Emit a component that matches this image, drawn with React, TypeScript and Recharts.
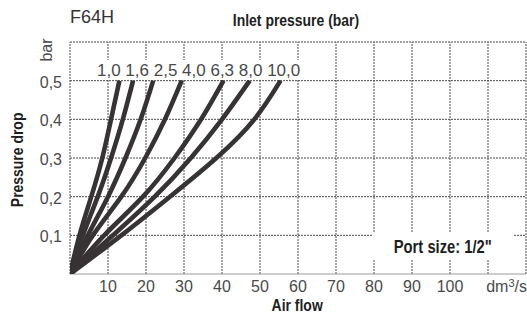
import React from "react";
import { LineChart, Line, XAxis, YAxis, ReferenceLine } from "recharts";

// Inlet pressure curves (bar) — flow (dm3/s) read at each pressure-drop level
const dropLevels = [0, 0.1, 0.2, 0.3, 0.4, 0.5];
const inletPressures = ["1,0", "1,6", "2,5", "4,0", "6,3", "8,0", "10,0"];
const flow_1_0 = [0, 2.5, 5.6, 8.5, 10.8, 13.0];
const flow_1_6 = [0, 3.4, 7.3, 10.8, 13.9, 16.6];
const flow_2_5 = [0, 4.7, 10.0, 14.6, 18.6, 21.9];
const flow_4_0 = [0, 6.0, 13.5, 19.8, 25.0, 29.4];
const flow_6_3 = [0, 9.0, 19.2, 27.5, 34.5, 40.4];
const flow_8_0 = [0, 11.3, 22.3, 31.8, 40.0, 47.3];
const flow_10_0 = [0, 13.5, 26.3, 38.5, 48.5, 55.4];

const xTicks = [0, 10, 20, 30, 40, 50, 60, 70, 80, 90, 100, 110, 120];
const yTicks = [0, 0.1, 0.2, 0.3, 0.4, 0.5, 0.6];

const seriesFlows = [flow_1_0, flow_1_6, flow_2_5, flow_4_0, flow_6_3, flow_8_0, flow_10_0];
const series = seriesFlows.map((flows, i) => ({
  name: inletPressures[i],
  points: flows.map((f, j) => ({ flow: f, drop: dropLevels[j] })),
}));

const SANS = "'Liberation Sans', Arial, Helvetica, sans-serif";
const LINE_COLOR = "#373233";
const TEXT_GRAY = "#4a4a4a";
const GRID = "#4d4d4d";

const XTick = (props: any) => {
  const { x, y, payload } = props;
  const v = payload.value;
  if (v === 0 || v === 110) return null;
  if (v === 120) {
    return (
      <text x={x + 1} y={y + 10} textAnchor="end" fontFamily={SANS} fontSize={16} fill={TEXT_GRAY}>
        dm<tspan dy={-5} fontSize={11}>3</tspan><tspan dy={5}>/s</tspan>
      </text>
    );
  }
  return (
    <text x={x} y={y + 10} textAnchor="middle" fontFamily={SANS} fontSize={16} fill={TEXT_GRAY}>
      {v}
    </text>
  );
};

const YTick = (props: any) => {
  const { x, y, payload } = props;
  const v = payload.value;
  if (v === 0) return null;
  if (v === 0.6) {
    return (
      <text
        x={0}
        y={0}
        transform={`translate(${x - 10},${y + 8}) rotate(-90)`}
        textAnchor="middle"
        fontFamily={SANS}
        fontSize={16}
        fill={TEXT_GRAY}
      >
        bar
      </text>
    );
  }
  return (
    <text x={x} y={y + 7} textAnchor="end" fontFamily={SANS} fontSize={16} fill={TEXT_GRAY}>
      {v.toFixed(1).replace(".", ",")}
    </text>
  );
};

const boldNarrow = (size: number): React.CSSProperties => ({
  fontFamily: SANS,
  fontWeight: "bold",
  fontSize: size,
  color: "#1e1e1e",
  whiteSpace: "nowrap",
  lineHeight: `${size + 4}px`,
});

export default function App() {
  return (
    <div style={{ position: "absolute", left: 0, top: 0, width: 527, height: 316, background: "#fff", overflow: "hidden" }}>
      <LineChart width={527} height={316} margin={{ top: 42, right: 1, bottom: 12, left: 20 }}>
        <XAxis
          type="number"
          dataKey="flow"
          domain={[0, 120]}
          ticks={xTicks}
          interval={0}
          tickLine={false}
          axisLine={false}
          tick={<XTick />}
          height={30}
          allowDataOverflow
        />
        <YAxis
          type="number"
          dataKey="drop"
          domain={[0, 0.6]}
          ticks={yTicks}
          interval={0}
          tickLine={false}
          axisLine={false}
          tickSize={6}
          tickMargin={2}
          tick={<YTick />}
          width={50}
          allowDataOverflow
        />
        {xTicks.map((v) => (
          <ReferenceLine key={`vx${v}`} x={v} stroke={GRID} strokeDasharray="2 1" strokeWidth={1} />
        ))}
        {yTicks.map((v) => (
          <ReferenceLine
            key={`hy${v}`}
            y={v}
            stroke={v === 0 ? "#9a9a9a" : GRID}
            strokeDasharray={v === 0 ? undefined : "2 1"}
            strokeWidth={1}
          />
        ))}
        {series.map((s) => (
          <Line
            key={s.name}
            data={s.points}
            dataKey="drop"
            type="natural"
            stroke={LINE_COLOR}
            strokeWidth={4.6}
            dot={false}
            activeDot={false}
            isAnimationActive={false}
          />
        ))}
      </LineChart>
      <div style={{ position: "absolute", left: 70, top: 6, fontFamily: SANS, fontSize: 18, color: "#333", lineHeight: "22px" }}>
        F64H
      </div>
      <div style={{ position: "absolute", left: 196, width: 200, top: 10, textAlign: "center" }}>
        <span style={{ ...boldNarrow(17), display: "inline-block", transform: "scaleX(0.82)" }}>Inlet pressure (bar)</span>
      </div>
      <div style={{ position: "absolute", left: 95, top: 60, width: 211, height: 20, background: "#fff" }}>
        <span style={{ position: "absolute", left: 2, top: 0, fontFamily: SANS, fontSize: 17, color: TEXT_GRAY, lineHeight: "21px", whiteSpace: "pre" }}>
          {inletPressures.join(" ")}
        </span>
      </div>
      <div style={{ position: "absolute", left: 17, top: 159, width: 0, height: 0 }}>
        <div style={{ position: "absolute", left: -80, top: -10, width: 160, textAlign: "center", transform: "rotate(-90deg)" }}>
          <span style={{ ...boldNarrow(17), display: "inline-block", transform: "scaleX(0.82)" }}>Pressure drop</span>
        </div>
      </div>
      <div style={{ position: "absolute", left: 247, width: 100, top: 295, textAlign: "center" }}>
        <span style={{ ...boldNarrow(17), display: "inline-block", transform: "scaleX(0.82)" }}>Air flow</span>
      </div>
      <div style={{ position: "absolute", left: 372, top: 233, width: 141, height: 27, background: "#fff", display: "flex", alignItems: "center", justifyContent: "center" }}>
        <span style={{ ...boldNarrow(18), display: "inline-block", transform: "scaleX(0.82)" }}>Port size: 1/2"</span>
      </div>
    </div>
  );
}
